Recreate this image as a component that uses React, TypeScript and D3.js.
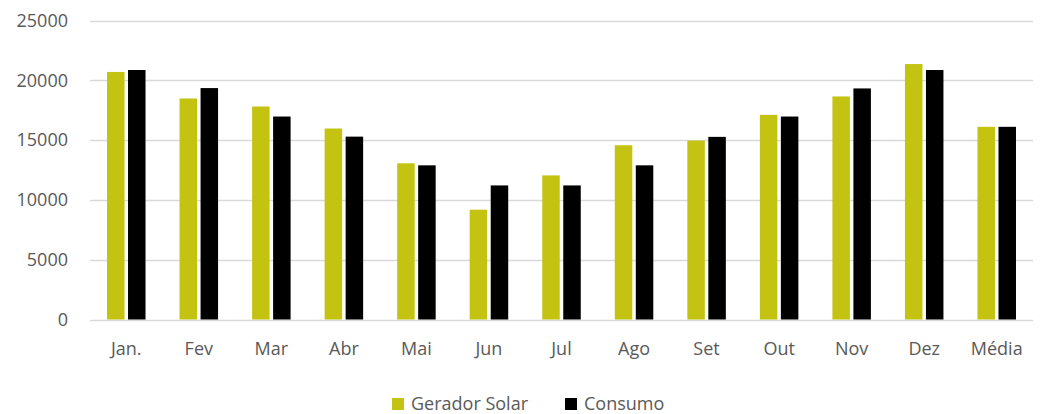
import React, { useEffect, useRef } from 'react';
import * as d3 from 'd3';

const categories = ['Jan.', 'Fev', 'Mar', 'Abr', 'Mai', 'Jun', 'Jul', 'Ago', 'Set', 'Out', 'Nov', 'Dez', 'Média'];
const seriesNames = ['Gerador Solar', 'Consumo'];
const geradorSolar = [20700, 18480, 17810, 15970, 13060, 9180, 12050, 14570, 14960, 17110, 18650, 21360, 16110];
const consumo = [20860, 19350, 16970, 15290, 12890, 11210, 11210, 12890, 15270, 16970, 19320, 20860, 16110];
const yTicks = [0, 5000, 10000, 15000, 20000, 25000];
const colors = ['#c4c312', '#000000'];

const WIDTH = 1041;
const HEIGHT = 414;

const App: React.FC = () => {
  const svgRef = useRef<SVGSVGElement>(null);

  useEffect(() => {
    if (!svgRef.current) return;
    document.body.style.margin = '0';
    const svg = d3.select(svgRef.current);
    svg.selectAll('*').remove();

    const font = '"Open Sans", sans-serif';
    const margin = { top: 20.5, right: 8, bottom: 94.5, left: 90 };

    const x0 = d3
      .scaleBand<string>()
      .domain(categories)
      .range([margin.left, WIDTH - margin.right]);

    const x1 = d3
      .scaleBand<string>()
      .domain(seriesNames)
      .range([0, x0.bandwidth()])
      .paddingInner(0.167)
      .paddingOuter(0.81);

    const y = d3
      .scaleLinear()
      .domain([0, 25000])
      .range([HEIGHT - margin.bottom, margin.top]);

    // grid lines
    svg.append('g')
      .selectAll('line')
      .data(yTicks)
      .enter()
      .append('line')
      .attr('x1', margin.left)
      .attr('x2', WIDTH - margin.right)
      .attr('y1', (d) => Math.round(y(d)) + 0.5)
      .attr('y2', (d) => Math.round(y(d)) + 0.5)
      .attr('stroke', '#d9d9d9')
      .attr('stroke-width', 1.5);

    // y labels
    svg.append('g')
      .selectAll('text')
      .data(yTicks)
      .enter()
      .append('text')
      .attr('x', 68)
      .attr('y', (d) => y(d))
      .attr('dy', '0.35em')
      .attr('text-anchor', 'end')
      .attr('fill', '#595959')
      .style('font-family', font)
      .style('font-size', '18px')
      .text((d) => String(d));

    // bars
    const rows = categories.map((c, i) => ({ cat: c, values: [geradorSolar[i], consumo[i]] }));
    const groups = svg.append('g')
      .selectAll('g')
      .data(rows)
      .enter()
      .append('g')
      .attr('transform', (d) => `translate(${x0(d.cat)},0)`);

    groups.selectAll('rect')
      .data((d) => d.values.map((v, j) => ({ name: seriesNames[j], value: v, j })))
      .enter()
      .append('rect')
      .attr('x', (d) => x1(d.name) as number)
      .attr('width', x1.bandwidth())
      .attr('y', (d) => y(d.value))
      .attr('height', (d) => y(0) - y(d.value))
      .attr('fill', (d) => colors[d.j]);

    // x labels
    svg.append('g')
      .selectAll('text')
      .data(categories)
      .enter()
      .append('text')
      .attr('x', (d) => (x0(d) as number) + x0.bandwidth() / 2)
      .attr('y', 349)
      .attr('dy', '0.35em')
      .attr('text-anchor', 'middle')
      .attr('fill', '#595959')
      .style('font-family', font)
      .style('font-size', '18px')
      .text((d) => d);

    // legend
    const legend = svg.append('g').attr('transform', 'translate(392,398)');
    const legendX = [0, 173];
    seriesNames.forEach((name, i) => {
      legend.append('rect')
        .attr('x', legendX[i])
        .attr('y', 0)
        .attr('width', 12)
        .attr('height', 12)
        .attr('fill', colors[i]);
      legend.append('text')
        .attr('x', legendX[i] + 19)
        .attr('y', 6)
        .attr('dy', '0.35em')
        .attr('fill', '#595959')
        .style('font-family', font)
        .style('font-size', '18px')
        .text(name);
    });
  }, []);

  return (
    <svg
      ref={svgRef}
      width={WIDTH}
      height={HEIGHT}
      style={{ display: 'block', background: '#ffffff' }}
    />
  );
};

export default App;
